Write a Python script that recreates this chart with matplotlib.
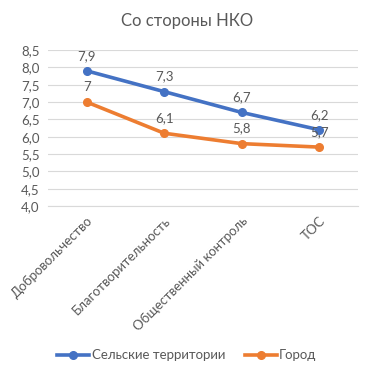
import matplotlib
matplotlib.use("Agg")
import matplotlib.pyplot as plt
from matplotlib.lines import Line2D

plt.rcParams['font.family'] = ['Lato', 'DejaVu Sans']

categories = ["Добровольчество", "Благотворительность", "Общественный контроль", "ТОС"]
rural = [7.9, 7.3, 6.7, 6.2]
town = [7.0, 6.1, 5.8, 5.7]
series_names = ["Сельские территории", "Город"]
title = "Со стороны НКО"
yticks = [4.0, 4.5, 5.0, 5.5, 6.0, 6.5, 7.0, 7.5, 8.0, 8.5]

blue = "#4472C4"
orange = "#ED7D31"
gray = "#595959"
grid = "#D9D9D9"
fs = 9.5

fig = plt.figure(figsize=(3.74, 3.76), dpi=100)
ax = fig.add_axes([0.128, 0.452, 0.829, 0.415])

x = list(range(len(categories)))
for vals, col in [(rural, blue), (town, orange)]:
    ax.plot(x, vals, color=col, lw=2.6, marker='o', ms=5.5, zorder=3, solid_capstyle='round')
    for xi, v in zip(x, vals):
        ax.annotate(f"{v:g}".replace('.', ','), (xi, v), xytext=(0, 6.5), textcoords='offset points',
                    ha='center', va='bottom', fontsize=fs, color=gray, zorder=4)

ax.set_xlim(-0.5, len(categories) - 0.5)
ax.set_ylim(4.0, 8.5)
ax.set_yticks(yticks)
ax.set_yticklabels([f"{t:.1f}".replace('.', ',') for t in yticks])
ax.set_xticks(x)
ax.set_xticklabels(categories, rotation=45, ha='right', rotation_mode='anchor')
ax.tick_params(axis='both', length=0, colors=gray, labelsize=fs)
ax.tick_params(axis='y', pad=6)
ax.tick_params(axis='x', pad=6)
ax.grid(axis='y', color=grid, lw=0.8)
ax.set_axisbelow(True)
for s in ['top', 'right', 'left']:
    ax.spines[s].set_visible(False)
ax.spines['bottom'].set_color(grid)
ax.spines['bottom'].set_linewidth(0.8)

fig.text(0.5, 0.945, title, ha='center', va='center', fontsize=12, color=gray)

handles = [Line2D([], [], color=blue, lw=2.6, marker='o', ms=5.5),
           Line2D([], [], color=orange, lw=2.6, marker='o', ms=5.5)]
fig.legend(handles, series_names, loc='center', bbox_to_anchor=(0.5, 0.055), ncol=2, frameon=False,
           fontsize=fs, labelcolor=gray, handlelength=2.4, handletextpad=0.2, columnspacing=1.5)

fig.savefig("out.png", dpi=100)
